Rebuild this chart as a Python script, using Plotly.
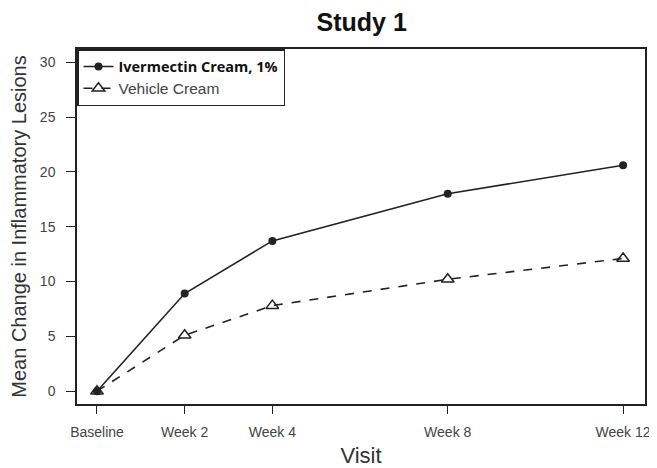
import plotly.graph_objects as go

# Data
visits = ["Baseline", "Week 2", "Week 4", "Week 8", "Week 12"]
weeks = [0, 2, 4, 8, 12]
ivermectin = [0.0, 8.9, 13.7, 18.0, 20.6]
vehicle = [0.0, 5.1, 7.8, 10.2, 12.1]
y_ticks = [0, 5, 10, 15, 20, 25, 30]

INK = "#222222"
FONT = "Liberation Sans, Arial, sans-serif"

fig = go.Figure()
fig.add_trace(go.Scatter(
    x=weeks, y=ivermectin, mode="lines+markers",
    name="<b>Ivermectin Cream, 1%</b>",
    line=dict(color=INK, width=1.6),
    marker=dict(symbol="circle", size=8, color=INK),
))
fig.add_trace(go.Scatter(
    x=weeks, y=vehicle, mode="lines+markers",
    name="<span style='font-family:Liberation Sans;font-size:15.5px;color:#444444'>Vehicle Cream</span>",
    line=dict(color=INK, width=1.6, dash="dash"),
    marker=dict(symbol="triangle-up-open", size=11, color=INK, line=dict(width=1.5)),
))

fig.update_layout(
    width=649, height=460,
    margin=dict(l=69, r=12, t=41, b=64),
    paper_bgcolor="white", plot_bgcolor="white",
    font=dict(family=FONT, color=INK, size=14),
    title=dict(text="<b>Study 1</b>", x=0.545, xanchor="center", y=0.968, yanchor="middle",
               font=dict(size=25, color="#111111")),
    showlegend=True,
    legend=dict(x=0, y=1, xanchor="left", yanchor="top",
                bordercolor=INK, borderwidth=1.5, bgcolor="white",
                font=dict(size=14.5, family="Open Sans, DejaVu Sans, sans-serif", color="#111111"),
                itemwidth=30, tracegroupgap=0),
    xaxis=dict(
        range=[-0.456, 12.5], tickmode="array", tickvals=weeks, ticktext=visits,
        showgrid=False, zeroline=False, showline=True, mirror=True, automargin=False,
        linecolor=INK, linewidth=1.5, ticks="outside", ticklen=8, tickcolor=INK,
        tickfont=dict(size=14, color="#444444"), ticklabelstandoff=6,
        title=dict(text="Visit", font=dict(size=22, color="#333333"), standoff=10),
    ),
    yaxis=dict(
        range=[-1.17, 31.2], tickmode="array", tickvals=y_ticks,
        showgrid=False, zeroline=False, showline=True, mirror=True, automargin=False,
        linecolor=INK, linewidth=1.5, ticks="outside", ticklen=9, tickcolor=INK,
        tickfont=dict(size=14, color="#444444"), ticklabelstandoff=8,
        title=dict(text="Mean Change in Inflammatory Lesions", font=dict(size=20, color="#333333"), standoff=10),
    ),
)

fig.write_html("out.html")
